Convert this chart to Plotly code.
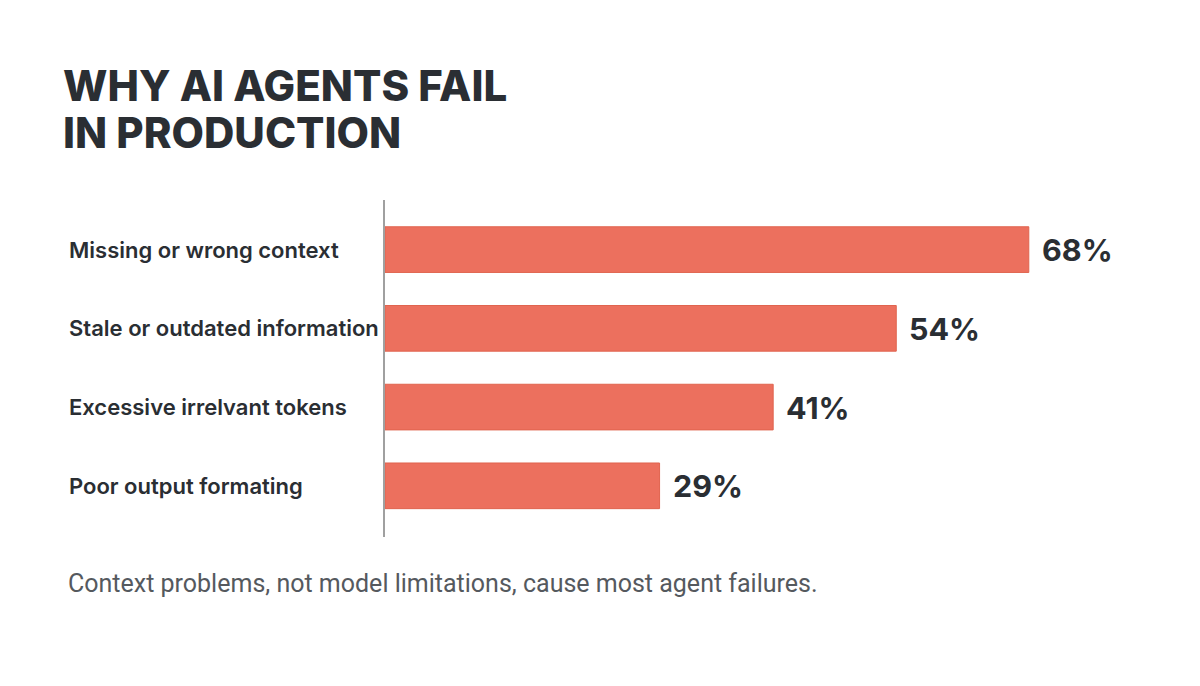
import plotly.graph_objects as go

categories = ["Missing or wrong context", "Stale or outdated information",
              "Excessive irrelvant tokens", "Poor output formating"]
values = [68, 54, 41, 29]
value_labels = ["68%", "54%", "41%", "29%"]
title_lines = ["WHY AI AGENTS FAIL", "IN PRODUCTION"]
footer = "Context problems, not model limitations, cause most agent failures."

W, H = 1200, 686
L, R, T, B = 385, 50, 200, 149
pw, ph = W - L - R, H - T - B

def px(x):
    return (x - L) / pw

def py(y):
    return (H - B - y) / ph

BAR = "#EC705E"
DARK = "#2A2E33"

fig = go.Figure(go.Bar(
    x=values, y=categories, orientation="h",
    marker=dict(color=BAR, line=dict(color="#E0644F", width=1)),
    width=0.58, hoverinfo="skip",
))

ann = []
for c, v, t in zip(categories, values, value_labels):
    ann.append(dict(x=v, y=c, xref="x", yref="y", text=t, showarrow=False,
                    xanchor="left", yanchor="middle", xshift=11,
                    font=dict(family="Inter", size=30.5, color=DARK, weight=700)))
    ann.append(dict(x=px(67), y=c, xref="paper", yref="y", text=c, showarrow=False,
                    xanchor="left", yanchor="middle",
                    font=dict(family="Inter", size=22, color=DARK, weight=600)))

for i, line in enumerate(title_lines):
    ann.append(dict(x=px(61), y=py(85 + 48 * i), xref="paper", yref="paper", text=line,
                    showarrow=False, xanchor="left", yanchor="middle",
                    font=dict(family="Inter", size=42, color=DARK, weight=800)))

ann.append(dict(x=px(66), y=py(583), xref="paper", yref="paper", text=footer,
                showarrow=False, xanchor="left", yanchor="middle",
                font=dict(family="Roboto", size=25, color="#55595E")))

fig.update_layout(
    width=W, height=H,
    margin=dict(l=L, r=R, t=T, b=B),
    paper_bgcolor="white", plot_bgcolor="white",
    showlegend=False,
    annotations=ann,
    xaxis=dict(range=[0, 80.8], visible=False, fixedrange=True),
    yaxis=dict(type="category", categoryorder="array", categoryarray=categories,
               range=[3.65, -0.63], showticklabels=False, ticks="",
               showgrid=False, zeroline=False,
               showline=True, linecolor="#A0A0A0", linewidth=1.5),
)
fig.update_traces(cliponaxis=False)

fig.write_html("out.html", config={"displayModeBar": False})
